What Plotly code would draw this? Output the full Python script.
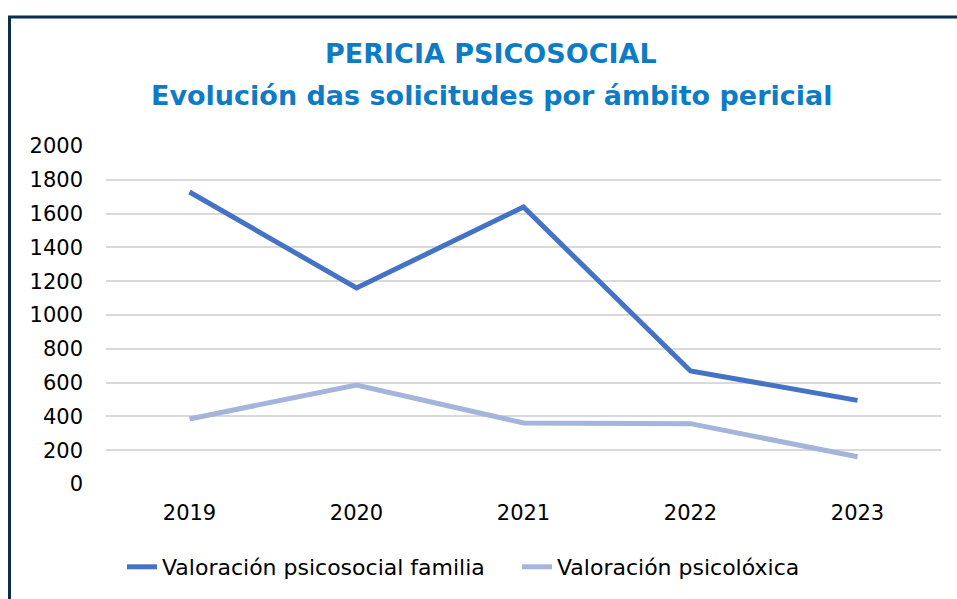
import plotly.graph_objects as go

years = ["2019", "2020", "2021", "2022", "2023"]
familia = [1728, 1160, 1639, 669, 495]
psicoloxica = [385, 586, 361, 357, 161]
series_names = ["Valoración psicosocial familia", "Valoración psicolóxica"]
title_lines = ["PERICIA PSICOSOCIAL", "Evolución das solicitudes por ámbito pericial"]
y_ticks = [0, 200, 400, 600, 800, 1000, 1200, 1400, 1600, 1800, 2000]

W, H = 957, 599
L, R, T, B = 106, 16, 146, 115
pw, ph = W - L - R, H - T - B

def px_x(px):
    return (px - L) / pw

def px_y(py):
    return (H - B - py) / ph

FONT = "DejaVu Sans"
TITLE_COLOR = "#0E7BC6"

fig = go.Figure()
fig.add_trace(go.Scatter(x=years, y=familia, mode="lines", name=series_names[0],
                         line=dict(color="#4472C4", width=5)))
fig.add_trace(go.Scatter(x=years, y=psicoloxica, mode="lines", name=series_names[1],
                         line=dict(color="#A5B4DA", width=5)))

border = "#0B2E4F"
fig.add_shape(type="line", xref="paper", yref="paper",
              x0=px_x(8), x1=px_x(960), y0=px_y(17), y1=px_y(17),
              line=dict(color=border, width=3))
fig.add_shape(type="line", xref="paper", yref="paper",
              x0=px_x(9.5), x1=px_x(9.5), y0=px_y(16), y1=px_y(605),
              line=dict(color=border, width=3))

for txt, ypx in zip(title_lines, [53, 95]):
    fig.add_annotation(text="<b>%s</b>" % txt, xref="paper", yref="paper",
                       x=px_x(491), y=px_y(ypx), xanchor="center", yanchor="middle",
                       showarrow=False,
                       font=dict(family=FONT, size=27, color=TITLE_COLOR))

fig.update_layout(
    width=W, height=H,
    margin=dict(l=L, r=R, t=T, b=B, autoexpand=False),
    paper_bgcolor="white", plot_bgcolor="white",
    font=dict(family=FONT, color="#000000", size=21),
    showlegend=True,
    legend=dict(orientation="h", x=px_x(122), xref="paper", xanchor="left",
                y=px_y(567), yref="paper", yanchor="middle",
                entrywidth=350, entrywidthmode="pixels",
                font=dict(family=FONT, size=22, color="#000000")),
    xaxis=dict(type="category", range=[-0.5, 4.5], showgrid=False, zeroline=False,
               showline=False, ticks="", ticklabelstandoff=14,
               tickfont=dict(family=FONT, size=21, color="#000000")),
    yaxis=dict(range=[0, 2000], tickvals=y_ticks, showgrid=True, gridcolor="#D9D9D9",
               gridwidth=2, zeroline=False, showline=False, ticks="",
               ticklabelstandoff=22,
               tickfont=dict(family=FONT, size=21, color="#000000")),
)

fig.write_html("out.html", config={"displayModeBar": False},
               post_script="document.body.style.margin='0';document.body.style.overflow='hidden';")
